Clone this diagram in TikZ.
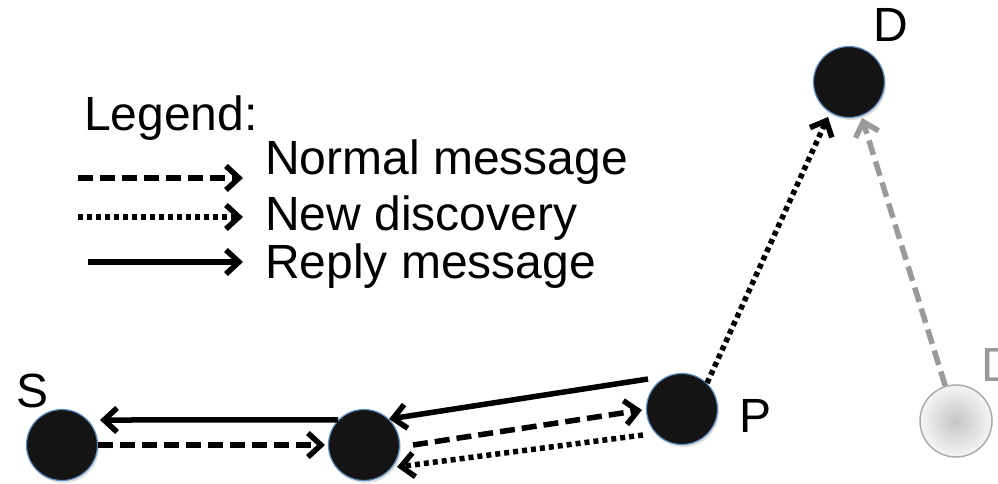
\documentclass[tikz,border=0pt]{standalone}
\usepackage{fontspec}
\setmainfont{Liberation Sans}
\usetikzlibrary{arrows.meta,calc,shadows}
\definecolor{nodefill}{HTML}{141414}
\definecolor{nodeedge}{HTML}{5A8CC0}
\definecolor{ghost}{HTML}{9A9A9A}
\begin{document}
\begin{tikzpicture}[x=1pt,y=-1pt,
  every node/.style={font=\fontsize{48}{56}\selectfont},
  tip/.style={-{Straight Barb[length=13pt,width=24pt]}},
  msg/.style={tip,line width=5.5pt},
  normalmsg/.style={msg,dash pattern=on 15pt off 7pt},
  discovery/.style={msg,dash pattern=on 5pt off 4pt},
  replymsg/.style={msg},
  ghostmsg/.style={normalmsg,color=ghost},
  dnode/.style={circle,minimum size=71pt,inner sep=0pt,fill=nodefill,draw=nodeedge,line width=1.2pt,
    drop shadow={opacity=0.25,shadow xshift=1.5pt,shadow yshift=-2.5pt}},
  gnode/.style={circle,minimum size=72pt,inner sep=0pt,inner color=gray!45,outer color=gray!8,draw=gray!65,line width=1.5pt},
  lbl/.style={anchor=base west,inner sep=0pt}]
\useasboundingbox (0,0) rectangle (998,483);
\clip (0,0) rectangle (998,483);
\fill[white] (0,0) rectangle (998,483);

% nodes
\node[dnode] (S) at (62,445) {};
\node[dnode] (M) at (364,445) {};
\node[dnode] (P) at (682,409) {};
\node[dnode] (D) at (849,82) {};
\node[gnode] (G) at (956,421) {};

% labels
\node[lbl] (Slbl) at (16,407) {S};
\node[lbl] (Plbl) at (739,432) {P};
\node[lbl] (Dlbl) at (873,41) {D};
\node[lbl,text=ghost] (Glbl) at (981,381) {D};

% legend
\node[lbl] (leg) at (84,130) {Legend:};
\node[lbl] (t1) at (265,174) {Normal message};
\node[lbl] (t2) at (265,230) {New discovery};
\node[lbl] (t3) at (265,278) {Reply message};
\coordinate (a1) at (78,178);  \coordinate (b1) at (243,178);
\coordinate (a2) at (78,217);  \coordinate (b2) at (243,217);
\coordinate (a3) at (88,262);  \coordinate (b3) at (243,262);
\draw[normalmsg] (a1) -- (b1);
\draw[discovery] (a2) -- (b2);
\draw[replymsg] (a3) -- (b3);

% connectors
\draw[replymsg] (M.136) -- ($(S)+(38,-25)$);
\draw[normalmsg] (S.east) -- ($(M)+(-39,0)$);
\draw[replymsg] ($(P)+(-34,-30)$) -- (M.46);
\draw[normalmsg] ($(M)+(49,0)$) -- ($(P)+(-40,1)$);
\draw[discovery] ($(P)+(-39,26)$) -- ($(M)+(33,22)$);
\draw[discovery] (P.46) -- ($(D)+(-21,35)$);
\draw[ghostmsg] (G.107) -- ($(D)+(13,36)$);
\end{tikzpicture}
\end{document}
